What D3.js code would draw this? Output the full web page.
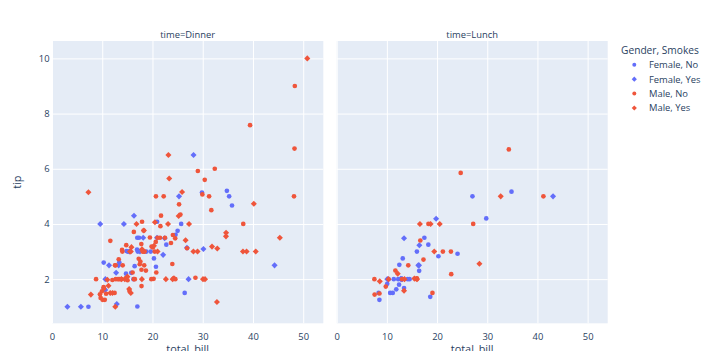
<!DOCTYPE html>
<html>
<head>
<meta charset="utf-8">
<script src="https://cdn.jsdelivr.net/npm/d3@7"></script>
<style>
  html, body { margin: 0; padding: 0; background: #fff; }
  svg { display: block; font-family: "Open Sans", "Noto Sans", sans-serif; }
</style>
</head>
<body>
<svg id="chart" width="710" height="351"></svg>
<script>
// ---------------- data (tips dataset, row order) ----------------
const totalBill = [
16.99,10.34,21.01,23.68,24.59,25.29,8.77,26.88,15.04,14.78,
10.27,35.26,15.42,18.43,14.83,21.58,10.33,16.29,16.97,20.65,
17.92,20.29,15.77,39.42,19.82,17.81,13.37,12.69,21.7,19.65,
9.55,18.35,15.06,20.69,17.78,24.06,16.31,16.93,18.69,31.27,
16.04,17.46,13.94,9.68,30.4,18.29,22.23,32.4,28.55,18.04,
12.54,10.29,34.81,9.94,25.56,19.49,38.01,26.41,11.24,48.27,
20.29,13.81,11.02,18.29,17.59,20.08,16.45,3.07,20.23,15.01,
12.02,17.07,26.86,25.28,14.73,10.51,17.92,27.2,22.76,17.29,
19.44,16.66,10.07,32.68,15.98,34.83,13.03,18.28,24.71,21.16,
28.97,22.49,5.75,16.32,22.75,40.17,27.28,12.03,21.01,12.46,
11.35,15.38,44.3,22.42,20.92,15.36,20.49,25.21,18.24,14.31,
14.0,7.25,38.07,23.95,25.71,17.31,29.93,10.65,12.43,24.08,
11.69,13.42,14.26,15.95,12.48,29.8,8.52,14.52,11.38,22.82,
19.08,20.27,11.17,12.26,18.26,8.51,10.33,14.15,16.0,13.16,
17.47,34.3,41.19,27.05,16.43,8.35,18.64,11.87,9.78,7.51,
14.07,13.13,17.26,24.55,19.77,29.85,48.17,25.0,13.39,16.49,
21.5,12.66,16.21,13.81,17.51,24.52,20.76,31.71,10.59,10.63,
50.81,15.81,7.25,31.85,16.82,32.9,17.89,14.48,9.6,34.63,
34.65,23.33,45.35,23.17,40.55,20.69,20.9,30.46,18.15,23.1,
15.69,19.81,28.44,15.48,16.58,7.56,10.34,43.11,13.0,13.51,
18.71,12.74,13.0,16.4,20.53,16.47,26.59,38.73,24.27,12.76,
30.06,25.89,48.33,13.27,28.17,12.9,28.15,11.59,7.74,30.14,
12.16,13.42,8.58,15.98,13.42,16.27,10.09,20.45,13.28,22.12,
24.01,15.69,11.61,10.77,15.53,10.07,12.6,32.83,35.83,29.03,
27.18,22.67,17.82,18.78];

const tip = [
1.01,1.66,3.5,3.31,3.61,4.71,2.0,3.12,1.96,3.23,
1.71,5.0,1.57,3.0,3.02,3.92,1.67,3.71,3.5,3.35,
4.08,2.75,2.23,7.58,3.18,2.34,2.0,2.0,4.3,3.0,
1.45,2.5,3.0,2.45,3.27,3.6,2.0,3.07,2.31,5.0,
2.24,2.54,3.06,1.32,5.6,3.0,5.0,6.0,2.05,3.0,
2.5,2.6,5.2,1.56,4.34,3.51,3.0,1.5,1.76,6.73,
3.21,2.0,1.98,3.76,2.64,3.15,2.47,1.0,2.01,2.09,
1.97,3.0,3.14,5.0,2.2,1.25,3.08,4.0,3.0,2.71,
3.0,3.4,1.83,5.0,2.03,5.17,2.0,4.0,5.85,3.0,
3.0,3.5,1.0,4.3,3.25,4.73,4.0,1.5,3.0,1.5,
2.5,3.0,2.5,3.48,4.08,1.64,4.06,4.29,3.76,4.0,
3.0,1.0,4.0,2.55,4.0,3.5,5.07,1.5,1.8,2.92,
2.31,1.68,2.5,2.0,2.52,4.2,1.48,2.0,2.0,2.18,
1.5,2.83,1.5,2.0,3.25,1.25,2.0,2.0,2.0,2.75,
3.5,6.7,5.0,5.0,2.3,1.5,1.36,1.63,1.73,2.0,
2.5,2.0,2.74,2.0,2.0,5.14,5.0,3.75,2.61,2.0,
3.5,2.5,2.0,2.0,3.0,3.48,2.24,4.5,1.61,2.0,
10.0,3.16,5.15,3.18,4.0,3.11,2.0,2.0,4.0,3.55,
3.68,5.65,3.5,6.5,3.0,5.0,3.5,2.0,3.5,4.0,
1.5,4.19,2.56,2.02,4.0,1.44,2.0,5.0,2.0,2.0,
4.0,2.01,2.0,2.5,4.0,3.23,3.41,3.0,2.03,2.23,
2.0,5.16,9.0,2.5,6.5,1.1,3.0,1.5,1.44,3.09,
2.2,3.48,1.92,3.0,1.58,2.5,2.0,3.0,2.72,2.88,
2.0,3.0,3.39,1.47,3.0,1.25,1.0,1.17,4.67,5.92,
2.0,2.0,1.75,3.0];

// F = Female, M = Male
const sex = [
"F","M","M","M","F","M","M","M","M","M",
"M","F","M","M","F","M","F","M","F","M",
"M","F","F","M","M","M","M","M","M","F",
"M","M","F","F","M","M","M","F","M","M",
"M","M","M","M","M","M","M","M","M","M",
"M","F","F","M","M","M","M","F","M","M",
"M","M","M","M","M","M","F","F","M","M",
"M","F","F","F","F","M","M","M","M","M",
"M","M","F","M","M","F","M","M","M","M",
"M","M","F","F","F","M","M","M","M","M",
"F","F","F","F","F","M","M","M","M","F",
"M","F","M","M","F","F","M","F","F","F",
"M","F","M","M","F","F","M","F","F","M",
"M","F","F","F","F","F","F","F","M","F",
"F","M","M","F","F","F","F","F","M","M",
"M","M","M","M","M","F","M","F","F","M",
"M","M","F","M","F","M","M","M","F","F",
"M","M","M","M","M","M","M","M","F","M",
"M","M","M","M","M","M","F","M","F","M",
"M","F","M","M","M","M","M","F","F","M",
"M","F","F","F","M","F","M","M","M","F",
"M","M","M","F","F","F","M","M","M","F",
"M","F","M","F","M","F","F","M","M","F",
"M","M","M","M","M","M","M","M","F","M",
"F","M","M","F"];

// N = No, Y = Yes
const smoker = [
"N","N","N","N","N","N","N","N","N","N",
"N","N","N","N","N","N","N","N","N","N",
"N","N","N","N","N","N","N","N","N","N",
"N","N","N","N","N","N","N","N","N","N",
"N","N","N","N","N","N","N","N","N","N",
"N","N","N","N","N","N","Y","N","Y","N",
"Y","Y","Y","Y","N","N","N","Y","N","Y",
"N","N","Y","Y","N","N","Y","N","N","N",
"Y","N","N","Y","N","N","N","N","N","N",
"Y","N","Y","Y","N","Y","Y","Y","Y","N",
"Y","Y","Y","Y","N","Y","Y","Y","N","Y",
"N","N","N","N","N","N","N","N","N","N",
"N","N","N","N","N","N","N","N","N","N",
"N","N","N","N","N","N","N","N","Y","N",
"N","N","N","N","N","N","N","N","N","N",
"N","N","N","N","N","N","N","N","N","N",
"N","N","N","N","Y","N","N","N","Y","Y",
"Y","Y","Y","Y","Y","Y","Y","Y","Y","Y",
"Y","Y","Y","Y","Y","N","Y","Y","Y","Y",
"Y","Y","Y","Y","Y","N","Y","Y","Y","Y",
"Y","Y","Y","Y","Y","Y","Y","Y","Y","Y",
"Y","Y","N","Y","Y","Y","Y","Y","Y","Y",
"Y","Y","Y","N","Y","Y","Y","N","N","Y",
"Y","Y","N","N","Y","N","Y","Y","N","N",
"Y","Y","N","N"];

// D = Dinner, L = Lunch
const time = [
"D","D","D","D","D","D","D","D","D","D",
"D","D","D","D","D","D","D","D","D","D",
"D","D","D","D","D","D","D","D","D","D",
"D","D","D","D","D","D","D","D","D","D",
"D","D","D","D","D","D","D","D","D","D",
"D","D","D","D","D","D","D","D","D","D",
"D","D","D","D","D","D","D","D","D","D",
"D","D","D","D","D","D","D","L","L","L",
"L","L","L","L","L","L","L","L","L","L",
"D","D","D","D","D","D","D","D","D","D",
"D","D","D","D","D","D","D","D","D","D",
"D","D","D","D","D","D","D","L","L","L",
"L","L","L","L","L","L","L","L","L","L",
"L","L","L","L","L","L","L","L","L","L",
"L","L","L","L","L","L","L","L","L","L",
"D","D","D","D","D","D","D","D","D","D",
"D","D","D","D","D","D","D","D","D","D",
"D","D","D","D","D","D","D","D","D","D",
"D","D","D","D","D","D","D","D","D","D",
"D","L","L","L","L","L","L","L","L","L",
"L","L","L","L","L","L","D","D","D","D",
"D","D","D","D","D","D","D","D","D","D",
"L","L","L","L","L","L","L","D","D","D",
"D","D","D","D","D","D","D","D","D","D",
"D","D","D","D"];

const facets = [{code: "D", label: "time=Dinner"}, {code: "L", label: "time=Lunch"}];
const groups = [
  {sex: "F", smoker: "N", label: "Female, No"},
  {sex: "F", smoker: "Y", label: "Female, Yes"},
  {sex: "M", smoker: "N", label: "Male, No"},
  {sex: "M", smoker: "Y", label: "Male, Yes"}
];
const xTicks = [0, 10, 20, 30, 40, 50];
const yTicks = [2, 4, 6, 8, 10];
const xDomain = [0, 54];
const yDomain = [0.4, 10.63];
const legendTitle = "Gender, Smokes";
const xTitle = "total_bill";
const yTitle = "tip";

// ---------------- styles ----------------
const colorOf = {F: "#636efa", M: "#EF553B"};
const textColor = "#2a3f5f";
const bg = "#E5ECF6";
const tickFont = 9.4;
const titleFont = 10.9;

const rows = totalBill.map((x, i) => ({x, y: tip[i], sex: sex[i], smoker: smoker[i], time: time[i]}));

const svg = d3.select("#chart");
const panelTop = 41, panelBottom = 323.3;
const panels = [{x0: 52, x1: 323.3}, {x0: 336.7, x1: 607.7}];

const y = d3.scaleLinear().domain(yDomain).range([panelBottom, panelTop]);

const circlePath = r => `M${r},0A${r},${r} 0 1,1 0,-${r}A${r},${r} 0 0,1 ${r},0Z`;
const diamondPath = r => `M${r},0L0,${r}L-${r},0L0,-${r}Z`;
const markerPath = (smk, s = 1) => smk === "Y" ? diamondPath(3.04 * s) : circlePath(2.34 * s);

facets.forEach((f, fi) => {
  const p = panels[fi];
  const x = d3.scaleLinear().domain(xDomain).range([p.x0, p.x1]);
  const g = svg.append("g");
  g.append("rect").attr("x", p.x0).attr("y", panelTop)
    .attr("width", p.x1 - p.x0).attr("height", panelBottom - panelTop).attr("fill", bg);

  // grid
  const xAxisGrid = d3.axisBottom(x).tickValues(xTicks).tickSize(-(panelBottom - panelTop)).tickFormat("");
  const gx = g.append("g").attr("transform", `translate(0,${panelBottom})`).call(xAxisGrid);
  gx.select(".domain").remove();
  gx.selectAll("line").attr("stroke", "#fff").attr("stroke-width", 1);

  const yAxisGrid = d3.axisLeft(y).tickValues(yTicks).tickSize(-(p.x1 - p.x0)).tickFormat("");
  const gy = g.append("g").attr("transform", `translate(${p.x0},0)`).call(yAxisGrid);
  gy.select(".domain").remove();
  gy.selectAll("line").attr("stroke", "#fff").attr("stroke-width", 1);

  // x tick labels
  const xl = g.append("g").attr("transform", `translate(0,${panelBottom})`)
    .call(d3.axisBottom(x).tickValues(xTicks).tickSize(0).tickPadding(10.5));
  xl.select(".domain").remove();
  xl.selectAll("text").attr("fill", textColor).attr("font-size", tickFont)
    .attr("font-family", "'Open Sans', sans-serif");

  if (fi === 0) {
    const yl = g.append("g").attr("transform", `translate(${p.x0},0)`)
      .call(d3.axisLeft(y).tickValues(yTicks).tickSize(0).tickPadding(2.5));
    yl.select(".domain").remove();
    yl.selectAll("text").attr("fill", textColor).attr("font-size", tickFont)
      .attr("font-family", "'Open Sans', sans-serif");
  }

  // points
  groups.forEach(gr => {
    const pts = rows.filter(r => r.time === f.code && r.sex === gr.sex && r.smoker === gr.smoker);
    g.append("g").selectAll("path").data(pts).join("path")
      .attr("transform", d => `translate(${x(d.x)},${y(d.y)})`)
      .attr("d", d => markerPath(d.smoker))
      .attr("fill", colorOf[gr.sex]);
  });

  // facet title
  svg.append("text").attr("x", (p.x0 + p.x1) / 2).attr("y", 37.8)
    .attr("text-anchor", "middle").attr("fill", textColor).attr("font-size", tickFont)
    .text(f.label);

  // x title
  svg.append("text").attr("x", (p.x0 + p.x1) / 2).attr("y", 353.2)
    .attr("text-anchor", "middle").attr("fill", textColor).attr("font-size", titleFont)
    .text(xTitle);
});

// y title
svg.append("text").attr("transform", `translate(20.5,${(panelTop + panelBottom) / 2}) rotate(-90)`)
  .attr("text-anchor", "middle").attr("fill", textColor).attr("font-size", titleFont)
  .text(yTitle);

// legend
const lg = svg.append("g");
lg.append("text").attr("x", 621).attr("y", 54.3).attr("fill", textColor)
  .attr("font-size", 10.2).text(legendTitle);
groups.forEach((gr, i) => {
  const cy = 64.8 + i * 14.4;
  lg.append("path").attr("transform", `translate(634.3,${cy})`)
    .attr("d", markerPath(gr.smoker, 0.85)).attr("fill", colorOf[gr.sex]);
  lg.append("text").attr("x", 649).attr("y", cy + 3.3).attr("fill", textColor)
    .attr("font-size", tickFont).text(gr.label);
});
</script>
</body>
</html>
